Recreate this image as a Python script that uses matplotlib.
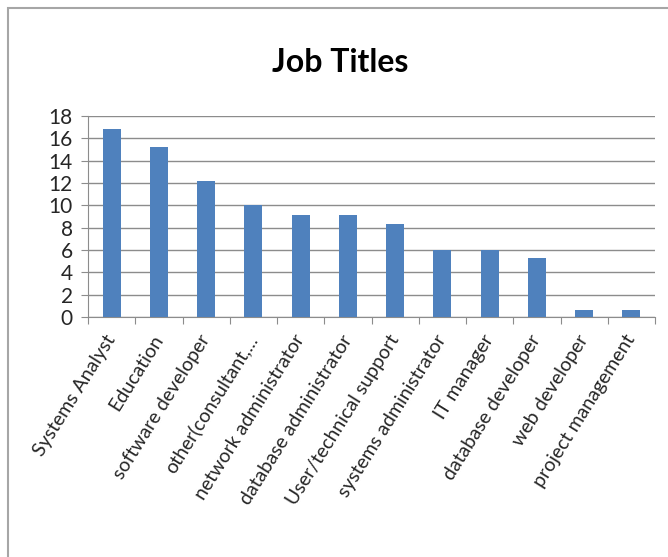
import matplotlib.pyplot as plt
from matplotlib.patches import Rectangle
import numpy as np

plt.rcParams['font.family'] = ['Lato', 'DejaVu Sans']

titles = ['Systems Analyst', 'Education', 'software developer', 'other(consultant,...',
          'network administrator', 'database administrator', 'User/technical support',
          'systems administrator', 'IT manager', 'database developer', 'web developer',
          'project management']
values = [16.8, 15.2, 12.2, 10.0, 9.1, 9.1, 8.3, 6.0, 6.0, 5.25, 0.6, 0.6]

fig = plt.figure(figsize=(6.68, 5.57), dpi=100)
fig.patches.append(Rectangle((8/668, -0.1), 1.2, 1 - 8/557 + 0.1, transform=fig.transFigure,
                             fill=False, edgecolor='#a6a6a6', linewidth=1.5))
ax = fig.add_axes([88/668, 1 - 317/557, (655 - 88)/668, (317 - 116)/557])

x = np.arange(len(titles))
ax.bar(x, values, width=0.38, color='#4f81bd', zorder=3)
ax.set_xlim(-0.5, len(titles) - 0.5)
ax.set_ylim(0, 18)
ax.set_yticks(range(0, 19, 2))
ax.yaxis.grid(True, color='#8c8c8c', linewidth=1, zorder=0)
for s in ['top', 'right']:
    ax.spines[s].set_visible(False)
ax.spines['left'].set_color('#8c8c8c')
ax.spines['bottom'].set_color('#8c8c8c')
ax.tick_params(axis='y', length=5, color='#8c8c8c', labelsize=15, pad=6, labelcolor='#262626')

# category boundaries get the tick marks, labels sit at bar centres
ax.set_xticks(np.arange(len(titles) + 1) - 0.5)
ax.set_xticklabels([])
ax.tick_params(axis='x', which='major', length=5, color='#8c8c8c')
ax.set_xticks(x, minor=True)
ax.set_xticklabels(titles, minor=True, rotation=58, ha='right', va='center',
                   rotation_mode='anchor', fontsize=14, color='#262626')
ax.tick_params(axis='x', which='minor', length=0, pad=14)

fig.text(340/668, 1 - 62/557, 'Job Titles', ha='center', va='center',
         fontsize=23, fontweight='bold', color='black')

fig.savefig('out.png', dpi=100)
